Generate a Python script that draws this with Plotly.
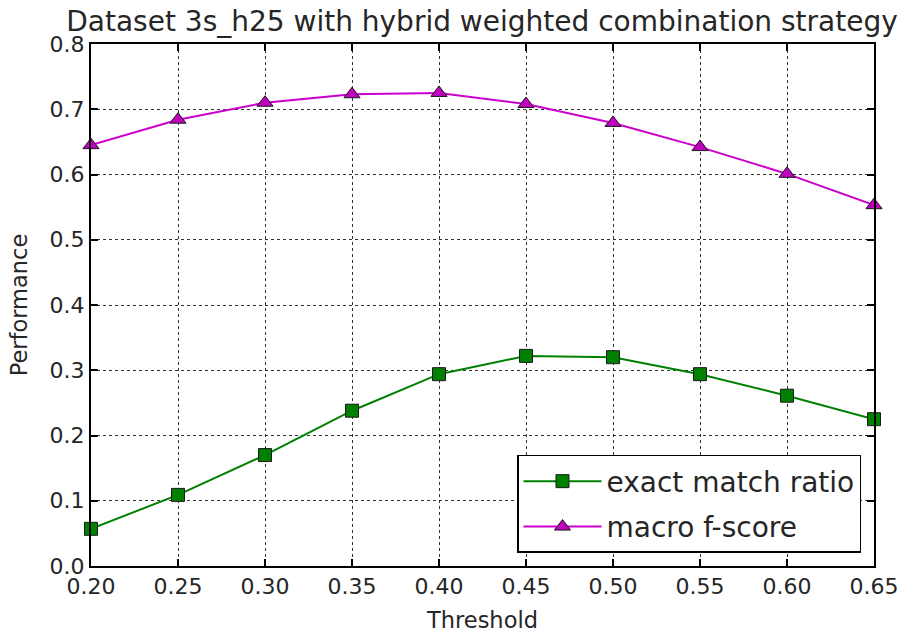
import plotly.graph_objects as go

thresholds = [0.20, 0.25, 0.30, 0.35, 0.40, 0.45, 0.50, 0.55, 0.60, 0.65]
exact_match = [0.057, 0.109, 0.170, 0.238, 0.294, 0.322, 0.320, 0.294, 0.261, 0.225]
macro_f = [0.645, 0.684, 0.710, 0.723, 0.725, 0.708, 0.679, 0.642, 0.601, 0.553]

font = "DejaVu Sans"
txt = "#262626"
W, H = 901, 635

fig = go.Figure()
fig.add_trace(go.Scatter(
    x=thresholds, y=exact_match, mode="lines+markers", name="exact match ratio",
    legendgroup="a",
    line=dict(color="#008000", width=2),
    marker=dict(symbol="square", size=13, color="#008000", line=dict(color="#1a1a1a", width=1)),
    cliponaxis=False,
))
fig.add_trace(go.Scatter(
    x=thresholds, y=macro_f, mode="lines+markers", name="macro f-score",
    legendgroup="b",
    line=dict(color="#cc00cc", width=2),
    marker=dict(symbol="triangle-up", size=14, color="#bf00bf", line=dict(color="#1a1a1a", width=1)),
    cliponaxis=False,
))

axis_common = dict(
    showline=True, linecolor="black", linewidth=2, mirror="ticks",
    ticks="inside", ticklen=7, tickwidth=1.5, tickcolor="black",
    showgrid=True, gridcolor="rgba(0,0,0,0.8)", griddash="dot", gridwidth=1.2,
    zeroline=False, automargin=False,
    tickfont=dict(family=font, size=22, color=txt),
)
fig.update_xaxes(range=[0.2, 0.65], dtick=0.05, tickformat=".2f",
                 title=dict(text="Threshold", font=dict(family=font, size=22.5, color=txt), standoff=14),
                 **axis_common)
fig.update_yaxes(range=[0.0, 0.8], dtick=0.1, tickformat=".1f",
                 title=dict(text="Performance", font=dict(family=font, size=22.5, color=txt), standoff=16),
                 **axis_common)

fig.update_layout(
    width=W, height=H,
    margin=dict(l=91, r=27, t=44, b=69),
    paper_bgcolor="white", plot_bgcolor="white",
    title=dict(text="Dataset 3s_h25 with hybrid weighted combination strategy",
               font=dict(family=font, size=28, color=txt),
               x=482 / W, xanchor="center", y=1 - 21 / H, yanchor="middle"),
    legend=dict(x=0.9834, y=0.025, xanchor="right", yanchor="bottom",
                bordercolor="black", borderwidth=1.5, bgcolor="white",
                font=dict(family=font, size=28, color=txt),
                itemwidth=78, tracegroupgap=6),
    showlegend=True,
)

fig.write_html("out.html", config={"displayModeBar": False},
               post_script="document.body.style.margin='0';document.body.style.overflow='hidden';")
